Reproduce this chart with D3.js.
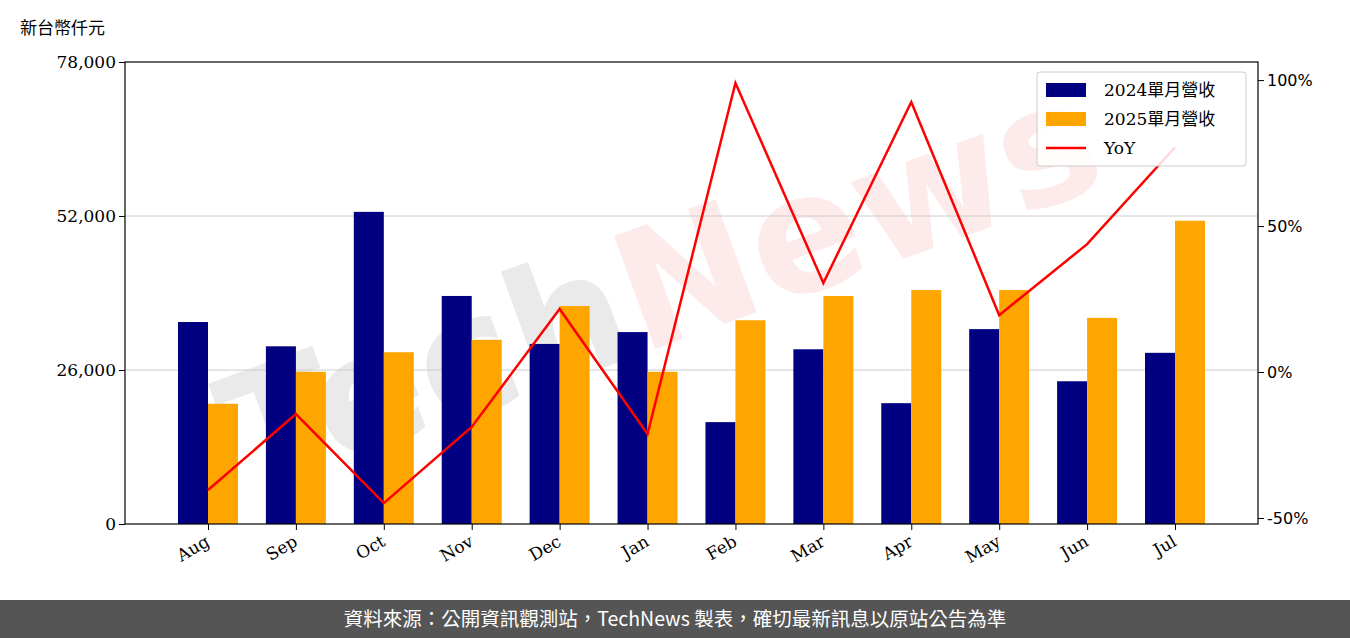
<!DOCTYPE html><html><head><meta charset="utf-8">
<script src="https://cdn.jsdelivr.net/npm/d3@7"></script>
<style>body{margin:0;background:#fff}</style></head><body>
<svg id="c" width="1350" height="638"></svg>
<script>
const categories=["Aug","Sep","Oct","Nov","Dec","Jan","Feb","Mar","Apr","May","Jun","Jul"];
const rev2024=[34100,30000,52700,38500,30400,32400,17200,29500,20400,32900,24100,28900];
const rev2025=[20300,25700,29000,31100,36800,25700,34400,38500,39500,39500,34800,51200];
const yoy=[-40.4,-14.4,-44.9,-18.8,21.6,-21.2,99,30.5,92.5,19.5,43.8,77];
const leftTicks=[0,26000,52000,78000];
const rightTicks=[-50,0,50,100];
const svg=d3.select("#c");
const L=125,R=1258,T=62,B=524;
const x=d3.scaleLinear().domain([-0.944,11.944]).range([L,R]);
const y=d3.scaleLinear().domain([0,78000]).range([B,T]);
const y2=d3.scaleLinear().domain([-52.05,106.2]).range([B,T]);
const serif="DejaVu Serif";
// watermark
const wm=svg.append("text").attr("transform","translate(680,340) rotate(-20)").attr("text-anchor","middle")
 .attr("font-family","DejaVu Sans").attr("font-weight","bold").attr("font-size",165).attr("opacity",0.08);
wm.append("tspan").attr("fill","#000").text("Tech");
wm.append("tspan").attr("fill","#e00").text("News");
// grid
svg.selectAll(".g").data([26000,52000]).join("line").attr("x1",L).attr("x2",R)
 .attr("y1",d=>y(d)).attr("y2",d=>y(d)).attr("stroke","#ccc").attr("stroke-width",1);
const bw=30;
svg.selectAll(".b1").data(rev2024).join("rect").attr("x",(d,i)=>x(i)-bw).attr("width",bw)
 .attr("y",d=>y(d)).attr("height",d=>B-y(d)).attr("fill","#000080");
svg.selectAll(".b2").data(rev2025).join("rect").attr("x",(d,i)=>x(i)).attr("width",bw)
 .attr("y",d=>y(d)).attr("height",d=>B-y(d)).attr("fill","#FFA500");
svg.append("path").datum(yoy).attr("d",d3.line().x((d,i)=>x(i)).y(d=>y2(d)))
 .attr("fill","none").attr("stroke","#ff0000").attr("stroke-width",2.5);
// axes
const ax=svg.append("g").attr("transform",`translate(${L},0)`).call(d3.axisLeft(y).tickValues(leftTicks).tickFormat(d3.format(",")).tickSizeOuter(0));
const ar=svg.append("g").attr("transform",`translate(${R},0)`).call(d3.axisRight(y2).tickValues(rightTicks).tickFormat(d=>d+"%").tickSizeOuter(0));
const ab=svg.append("g").attr("transform",`translate(0,${B})`).call(d3.axisBottom(x).tickValues(d3.range(12)).tickFormat(i=>categories[i]).tickSizeOuter(0));
[ax,ar,ab].forEach(a=>{a.select(".domain").remove();a.selectAll("text").attr("font-family",serif).attr("font-size",17).attr("fill","#000");a.selectAll("line").attr("stroke","#000");});
ar.selectAll("text").attr("font-family","DejaVu Sans").attr("font-size",16);
ab.selectAll("text").attr("text-anchor","end").attr("transform","rotate(-30)").attr("dx","-0.5em").attr("dy","0.6em");
svg.append("rect").attr("x",L).attr("y",T).attr("width",R-L).attr("height",B-T).attr("fill","none").attr("stroke","#000").attr("stroke-width",1.2);
svg.append("text").attr("x",20).attr("y",34).attr("font-family","Noto Sans CJK TC").attr("font-size",17).text("新台幣仟元");
// legend
const lg=svg.append("g");
lg.append("rect").attr("x",1037).attr("y",72).attr("width",209).attr("height",94).attr("fill","#fff").attr("fill-opacity",0.85).attr("stroke","#ccc").attr("rx",3);
const items=[["2024單月營收","#000080","bar"],["2025單月營收","#FFA500","bar"],["YoY","#ff0000","line"]];
items.forEach((it,i)=>{const cy=90+i*29;
 if(it[2]=="bar")lg.append("rect").attr("x",1046).attr("y",cy-7).attr("width",40).attr("height",14).attr("fill",it[1]);
 else lg.append("line").attr("x1",1046).attr("x2",1086).attr("y1",cy).attr("y2",cy).attr("stroke",it[1]).attr("stroke-width",2.5);
 lg.append("text").attr("x",1104).attr("y",cy+6).attr("font-family",serif+", Noto Sans CJK TC").attr("font-size",17).text(it[0]);});
// footer
svg.append("rect").attr("x",0).attr("y",600).attr("width",1350).attr("height",38).attr("fill","#555");
svg.append("text").attr("x",675).attr("y",626).attr("text-anchor","middle").attr("fill","#fff").attr("font-family","Noto Sans CJK TC").attr("font-size",19.5).text("資料來源：公開資訊觀測站，TechNews 製表，確切最新訊息以原站公告為準");
</script></body></html>
